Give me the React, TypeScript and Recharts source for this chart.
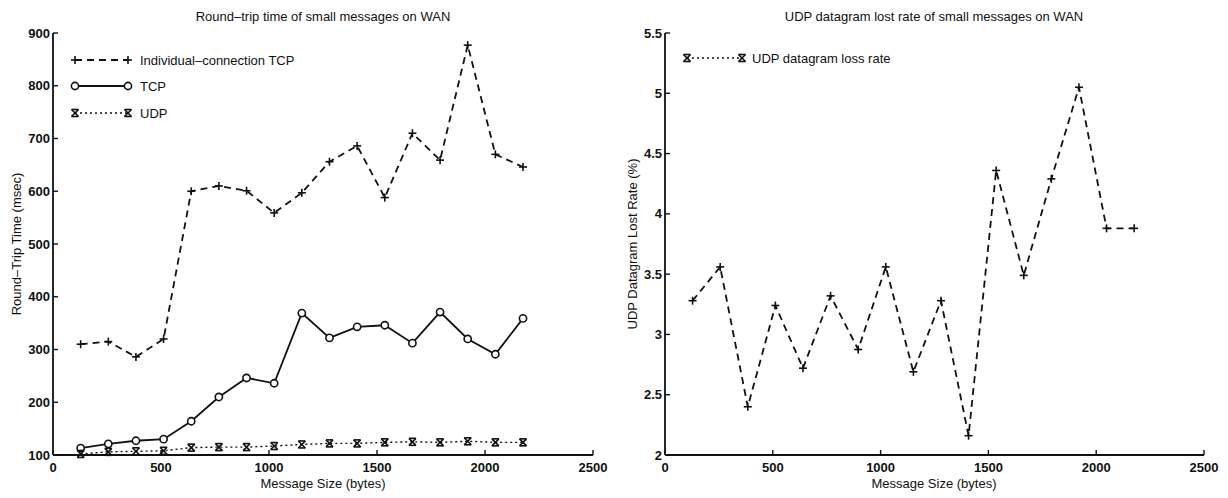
import React from 'react';
import { LineChart, Line, XAxis, YAxis } from 'recharts';

const messageSizes = [128, 256, 384, 512, 640, 768, 896, 1024, 1152, 1280, 1408, 1536, 1664, 1792, 1920, 2048, 2176];
const individualTcpRtt = [310, 315, 286, 320, 600, 610, 601, 559, 597, 656, 686, 588, 710, 659, 877, 670, 646];
const tcpRtt = [113, 121, 127, 130, 164, 210, 246, 236, 369, 322, 343, 346, 312, 371, 320, 291, 359];
const udpRtt = [102, 106, 107, 108, 114, 115, 115, 117, 120, 122, 122, 124, 125, 124, 126, 124, 124];
const udpLossRate = [3.28, 3.56, 2.4, 3.24, 2.72, 3.32, 2.875, 3.56, 2.69, 3.28, 2.16, 4.36, 3.49, 4.29, 5.05, 3.88, 3.88];

const xTicks = [0, 500, 1000, 1500, 2000, 2500];
const rttTicks = [100, 200, 300, 400, 500, 600, 700, 800, 900];
const lossTicks = [2, 2.5, 3, 3.5, 4, 4.5, 5, 5.5];

const leftTitle = 'Round\u2013trip time of small messages on WAN';
const rightTitle = 'UDP datagram lost rate of small messages on WAN';
const xLabel = 'Message Size (bytes)';
const leftYLabel = 'Round\u2013Trip Time (msec)';
const rightYLabel = 'UDP Datagram Lost Rate (%)';
const leftLegend = ['Individual\u2013connection TCP', 'TCP', 'UDP'];
const rightLegend = ['UDP datagram loss rate'];

const rttData = messageSizes.map((x, i) => ({ x, ind: individualTcpRtt[i], tcp: tcpRtt[i], udp: udpRtt[i] }));
const lossData = messageSizes.map((x, i) => ({ x, loss: udpLossRate[i] }));

const FONT = '"Liberation Sans", Arial, Helvetica, sans-serif';
const INK = '#111';

const PlusMark = ({ cx, cy, s = 4 }: any) => (
  <g stroke={INK} strokeWidth={1.6}>
    <line x1={cx - s} y1={cy} x2={cx + s} y2={cy} />
    <line x1={cx} y1={cy - s} x2={cx} y2={cy + s} />
  </g>
);
const CircleMark = ({ cx, cy }: any) => (
  <circle cx={cx} cy={cy} r={3.6} fill="#fff" stroke={INK} strokeWidth={1.6} />
);
const StarMark = ({ cx, cy, s = 3.5 }: any) => (
  <g stroke={INK} strokeWidth={1.6}>
    <line x1={cx - s} y1={cy - s} x2={cx + s} y2={cy + s} />
    <line x1={cx - s} y1={cy + s} x2={cx + s} y2={cy - s} />
    <line x1={cx - s} y1={cy - s} x2={cx + s} y2={cy - s} />
    <line x1={cx - s} y1={cy + s} x2={cx + s} y2={cy + s} />
  </g>
);

const XTick = (p: any) => {
  const { x, y, payload } = p;
  return (
    <g>
      <line x1={x} y1={y} x2={x} y2={y - 5} stroke={INK} strokeWidth={1.4} />
      <text x={x} y={y + 17} textAnchor="middle" fontFamily={FONT} fontSize={13} fontWeight="bold" fill={INK}>
        {payload.value}
      </text>
    </g>
  );
};
const YTick = (p: any) => {
  const { x, y, payload } = p;
  return (
    <g>
      <line x1={x} y1={y} x2={x + 5} y2={y} stroke={INK} strokeWidth={1.4} />
      <text x={x - 3} y={y + 4.5} textAnchor="end" fontFamily={FONT} fontSize={13} fontWeight="bold" fill={INK}>
        {payload.value}
      </text>
    </g>
  );
};

const axisLine = { stroke: INK, strokeWidth: 1.8 };

export default function App() {
  return (
    <div style={{ position: 'absolute', left: 0, top: 0, width: 1228, height: 498, background: '#fff' }}>
      <div style={{ position: 'absolute', left: 0, top: 0 }}>
        <LineChart width={614} height={498} data={rttData} margin={{ top: 33, right: 21, bottom: 3, left: 8 }}>
          <XAxis
            dataKey="x"
            type="number"
            domain={[0, 2500]}
            ticks={xTicks}
            height={40}
            tickSize={0}
            tickMargin={0}
            tickLine={false}
            axisLine={axisLine}
            tick={<XTick />}
            interval={0}
          />
          <YAxis
            type="number"
            domain={[100, 900]}
            ticks={rttTicks}
            width={45}
            tickSize={0}
            tickMargin={0}
            tickLine={false}
            axisLine={axisLine}
            tick={<YTick />}
            interval={0}
          />
          <Line
            dataKey="ind"
            stroke={INK}
            strokeWidth={1.8}
            strokeDasharray="7 5"
            isAnimationActive={false}
            dot={(p: any) => <PlusMark key={p.index} cx={p.cx} cy={p.cy} />}
          />
          <Line
            dataKey="tcp"
            stroke={INK}
            strokeWidth={1.8}
            isAnimationActive={false}
            dot={(p: any) => <CircleMark key={p.index} cx={p.cx} cy={p.cy} />}
          />
          <Line
            dataKey="udp"
            stroke={INK}
            strokeWidth={1.4}
            strokeDasharray="2 3"
            isAnimationActive={false}
            dot={(p: any) => <StarMark key={p.index} cx={p.cx} cy={p.cy} />}
          />
        </LineChart>
      </div>
      <div style={{ position: 'absolute', left: 614, top: 0 }}>
        <LineChart width={614} height={498} data={lossData} margin={{ top: 33, right: 24, bottom: 3, left: 6 }}>
          <XAxis
            dataKey="x"
            type="number"
            domain={[0, 2500]}
            ticks={xTicks}
            height={40}
            tickSize={0}
            tickMargin={0}
            tickLine={false}
            axisLine={axisLine}
            tick={<XTick />}
            interval={0}
          />
          <YAxis
            type="number"
            domain={[2, 5.5]}
            ticks={lossTicks}
            width={45}
            tickSize={0}
            tickMargin={0}
            tickLine={false}
            axisLine={axisLine}
            tick={<YTick />}
            interval={0}
          />
          <Line
            dataKey="loss"
            stroke={INK}
            strokeWidth={1.8}
            strokeDasharray="7 5"
            isAnimationActive={false}
            dot={(p: any) => <PlusMark key={p.index} cx={p.cx} cy={p.cy} />}
          />
        </LineChart>
      </div>
      <svg width={1228} height={498} style={{ position: 'absolute', left: 0, top: 0, pointerEvents: 'none' }}>
        <g fontFamily={FONT} fontSize={13} fill={INK}>
          <text x={323} y={21} textAnchor="middle">{leftTitle}</text>
          <text x={934} y={21} textAnchor="middle">{rightTitle}</text>
          <text x={323} y={488} textAnchor="middle">{xLabel}</text>
          <text x={934} y={488} textAnchor="middle">{xLabel}</text>
          <text x={21} y={244} textAnchor="middle" transform="rotate(-90 21 244)">{leftYLabel}</text>
          <text x={637} y={244} textAnchor="middle" transform="rotate(-90 637 244)">{rightYLabel}</text>
        </g>
        {/* left legend */}
        <g>
          <line x1={75} y1={60} x2={128} y2={60} stroke={INK} strokeWidth={1.8} strokeDasharray="7 5" />
          <PlusMark cx={75} cy={60} />
          <PlusMark cx={128} cy={60} />
          <line x1={75} y1={86} x2={128} y2={86} stroke={INK} strokeWidth={1.8} />
          <CircleMark cx={75} cy={86} />
          <CircleMark cx={128} cy={86} />
          <line x1={75} y1={113} x2={128} y2={113} stroke={INK} strokeWidth={1.4} strokeDasharray="2 3" />
          <StarMark cx={75} cy={113} />
          <StarMark cx={128} cy={113} />
          <g fontFamily={FONT} fontSize={13} fill={INK}>
            <text x={140} y={65}>{leftLegend[0]}</text>
            <text x={140} y={91}>{leftLegend[1]}</text>
            <text x={140} y={118}>{leftLegend[2]}</text>
          </g>
        </g>
        {/* right legend */}
        <g>
          <line x1={687} y1={58} x2={742} y2={58} stroke={INK} strokeWidth={1.4} strokeDasharray="2 3" />
          <StarMark cx={687} cy={58} />
          <StarMark cx={742} cy={58} />
          <text x={752} y={63} fontFamily={FONT} fontSize={13} fill={INK}>{rightLegend[0]}</text>
        </g>
      </svg>
    </div>
  );
}
